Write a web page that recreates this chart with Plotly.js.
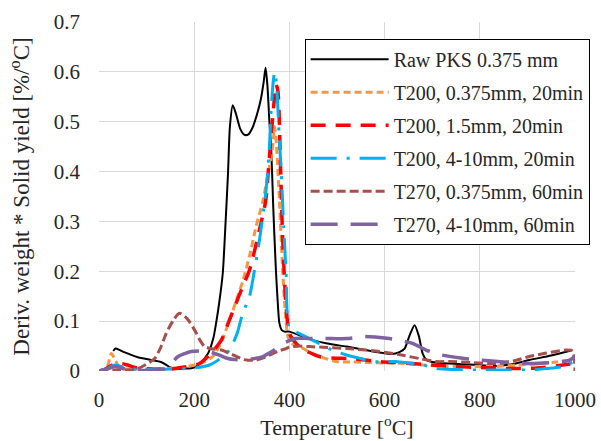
<!DOCTYPE html>
<html>
<head>
<meta charset="utf-8">
<script src="https://cdn.plot.ly/plotly-3.0.1.min.js"></script>
<style>
html,body{margin:0;padding:0;background:#fff;}
#chart text{font-family:'Liberation Serif', serif !important;}
</style>
</head>
<body>
<div id="chart" style="width:601px;height:441px;"></div>
<script>
// Series names
const seriesNames = [
  "Raw PKS 0.375 mm",
  "T200, 0.375mm, 20min",
  "T200, 1.5mm, 20min",
  "T200, 4-10mm, 20min",
  "T270, 0.375mm, 60min",
  "T270, 4-10mm, 60min"
];

// Raw PKS 0.375 mm
const rawX = [30,35,50,80,110,130,142,150,165,185,197,210,229,240,246,253,260,266,271,275,281,288,297,305,313,322,332,340,346,350,354,358,362,366,369,372,376,379,384,390,400,420,449,480,520,560,589,615,631,642,652,663,672,680,688,700,736,780,834,870,904,950,992];
const rawY = [0.040,0.045,0.039,0.028,0.022,0.018,0.012,0.007,0.004,0.005,0.006,0.013,0.035,0.065,0.096,0.14,0.196,0.30,0.396,0.49,0.533,0.515,0.485,0.474,0.474,0.487,0.515,0.545,0.58,0.608,0.57,0.50,0.44,0.33,0.26,0.196,0.13,0.096,0.082,0.079,0.079,0.072,0.062,0.055,0.049,0.042,0.037,0.034,0.038,0.045,0.07,0.092,0.07,0.035,0.022,0.018,0.015,0.013,0.010,0.014,0.022,0.031,0.041];

// T200, 0.375mm, 20min
const t200aX = [0,15,26,35,45,70,100,150,180,200,220,239,257,274,288,302,316,330,344,356,362,366,369,373,379,386,392,397,403,412,421,435,449,470,498,530,569,600,638,680,729,780,834,880,925,960,992];
const t200aY = [0,0.003,0.035,0.02,0.006,0.004,0.004,0.005,0.008,0.012,0.018,0.029,0.058,0.102,0.14,0.18,0.23,0.29,0.34,0.40,0.43,0.46,0.49,0.45,0.343,0.2,0.11,0.069,0.058,0.05,0.049,0.042,0.035,0.027,0.019,0.018,0.017,0.016,0.015,0.012,0.009,0.009,0.009,0.012,0.015,0.018,0.022];

// T200, 1.5mm, 20min
const t200bX = [0,15,30,47,60,80,110,150,180,211,235,257,271,285,300,316,337,350,358,366,372,376,381,386,393,400,410,421,440,463,490,526,560,589,620,659,700,750,800,869,920,974,990];
const t200bY = [0,0.005,0.013,0.015,0.012,0.006,0.004,0.004,0.008,0.015,0.035,0.062,0.095,0.129,0.165,0.202,0.283,0.34,0.43,0.52,0.575,0.56,0.42,0.262,0.129,0.075,0.06,0.049,0.038,0.029,0.026,0.025,0.022,0.019,0.017,0.015,0.012,0.009,0.007,0.005,0.006,0.012,0.014];

// T200, 4-10mm, 20min
const t200cX = [0,15,33,50,70,100,150,200,232,255,274,290,302,316,323,337,351,358,362,366,369,373,378,383,388,393,399,410,421,440,463,490,520,550,575,600,624,650,680,708,750,800,850,904,940,974,1000];
const t200cY = [0,0.004,0.012,0.008,0.004,0.003,0.004,0.006,0.012,0.025,0.042,0.075,0.116,0.149,0.182,0.262,0.363,0.45,0.53,0.58,0.6,0.575,0.48,0.396,0.29,0.196,0.089,0.08,0.075,0.066,0.055,0.042,0.032,0.025,0.019,0.019,0.019,0.016,0.012,0.005,0.003,0.002,0.002,0.002,0.005,0.009,0.02];

// T270, 0.375mm, 60min
const t270aX = [0,30,54,80,107,117,130,141,155,169,185,201,212,222,240,257,280,299,310,330,350,365,380,393,400,420,442,480,520,560,589,630,673,708,736,780,834,870,904,940,981,995,1000];
const t270aY = [0,0.002,0.002,0.004,0.018,0.025,0.048,0.075,0.1,0.116,0.105,0.082,0.062,0.049,0.044,0.042,0.033,0.025,0.022,0.022,0.028,0.035,0.041,0.045,0.048,0.05,0.049,0.047,0.045,0.042,0.039,0.033,0.025,0.019,0.019,0.017,0.015,0.02,0.029,0.036,0.042,0.04,0.0];

// T270, 4-10mm, 60min
const t270bX = [0,15,33,50,70,100,140,166,180,194,210,229,250,271,299,320,344,365,386,414,450,490,520,554,580,610,640,660,687,720,760,800,850,904,950,989,1000];
const t270bY = [0,0.003,0.009,0.005,0.002,0.001,0.005,0.029,0.035,0.039,0.04,0.039,0.033,0.025,0.022,0.024,0.029,0.04,0.055,0.065,0.065,0.065,0.065,0.069,0.068,0.065,0.06,0.055,0.042,0.032,0.026,0.022,0.018,0.015,0.017,0.022,0.03];

// Axis ticks
const xTicks = [0,200,400,600,800,1000];
const yTicks = [0,0.1,0.2,0.3,0.4,0.5,0.6,0.7];

const FONT = "Liberation Serif";
const xs = [rawX,t200aX,t200bX,t200cX,t270aX,t270bX];
const ys = [rawY,t200aY,t200bY,t200cY,t270aY,t270bY];
const colors = ["#000000","#F79646","#FF0000","#00B0F0","#A84F4C","#7F62A0"];
const widths = [2,3,3.5,3,3,3.5];
const dashes = ["solid","7px,4px","15px,10px","26px,10px,3px,10px","9px,4px","27px,13px"];

const traces = seriesNames.map((n,i)=>({
  x: xs[i], y: ys[i], name: n, type: "scatter", mode: "lines",
  legendgroup: "g"+i,
  line: {color: colors[i], width: widths[i], dash: dashes[i], shape: "spline", smoothing: 0.7}
}));

const layout = {
  width: 601, height: 441,
  margin: {l: 99, r: 26, t: 22, b: 70, autoexpand: false},
  paper_bgcolor: "#fff", plot_bgcolor: "#fff",
  font: {family: FONT, size: 20, color: "#262626"},
  showlegend: true,
  legend: {
    x: 0.432, y: 0.952, xanchor: "left", yanchor: "top",
    bordercolor: "#000", borderwidth: 1, bgcolor: "#fff",
    font: {family: FONT, size: 20, color: "#262626"},
    traceorder: "grouped", tracegroupgap: 4, itemwidth: 78
  },
  xaxis: {
    range: [0, 1000], tickvals: xTicks, showgrid: true, gridcolor: "#d9d9d9", gridwidth: 1,
    zeroline: false, showline: false, ticks: "", ticklabelstandoff: 14, automargin: false,
    tickfont: {family: FONT, size: 21, color: "#262626"},
    title: {text: "Temperature [<sup>o</sup>C]", font: {family: FONT, size: 22, color: "#262626"}, standoff: 6}
  },
  yaxis: {
    range: [0, 0.7], tickvals: yTicks, showgrid: true, gridcolor: "#d9d9d9", gridwidth: 1,
    zeroline: false, showline: false, ticks: "", ticklabelstandoff: 18, automargin: false,
    tickfont: {family: FONT, size: 21, color: "#262626"},
    title: {text: "Deriv. weight * Solid yield [%/<sup>o</sup>C]", font: {family: FONT, size: 23, color: "#262626"}, standoff: 17}
  }
};

Plotly.newPlot("chart", traces, layout, {staticPlot: true, displayModeBar: false});
</script>
</body>
</html>
